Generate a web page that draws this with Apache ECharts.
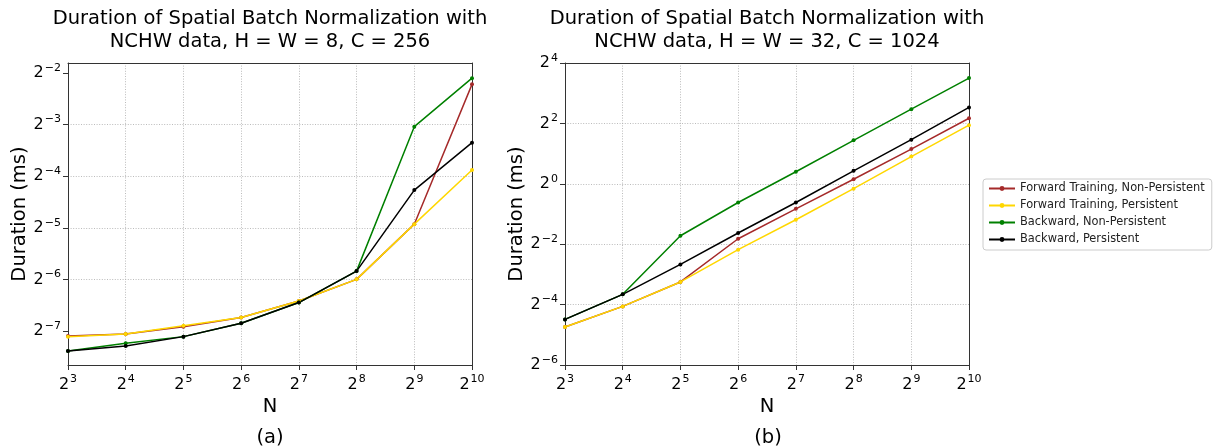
<!DOCTYPE html>
<html><head><meta charset="utf-8">
<script src="https://cdn.jsdelivr.net/npm/echarts@6/dist/echarts.min.js"></script>
<style>html,body{margin:0;padding:0;background:#fff}#c{width:1215px;height:448px}</style>
</head><body><div id="c"></div>
<script>
// Series names and colours
const seriesNames = ['Forward Training, Non-Persistent', 'Forward Training, Persistent', 'Backward, Non-Persistent', 'Backward, Persistent'];
const seriesColors = ['#a52a2a', '#ffd700', '#008000', '#000000'];

// N = 2^n, n values (x axis, log2 scale)
const nExp = [3, 4, 5, 6, 7, 8, 9, 10];

// Chart (a): H = W = 8, C = 256 — log2(duration in ms)
const aFwdNonPersistent = [-7.10, -7.06, -6.92, -6.74, -6.42, -6.00, -4.93, -2.22];
const aFwdPersistent    = [-7.11, -7.06, -6.90, -6.74, -6.42, -6.00, -4.93, -3.88];
const aBwdNonPersistent = [-7.39, -7.24, -7.11, -6.85, -6.45, -5.84, -3.04, -2.10];
const aBwdPersistent    = [-7.39, -7.29, -7.11, -6.85, -6.45, -5.84, -4.27, -3.35];

// Chart (b): H = W = 32, C = 1024 — log2(duration in ms)
const bFwdNonPersistent = [-4.74, -4.06, -3.25, -1.82, -0.83, 0.15, 1.15, 2.17];
const bFwdPersistent    = [-4.74, -4.06, -3.25, -2.18, -1.19, -0.16, 0.90, 1.94];
const bBwdNonPersistent = [-4.49, -3.66, -1.72, -0.62, 0.40, 1.44, 2.47, 3.50];
const bBwdPersistent    = [-4.49, -3.66, -2.67, -1.63, -0.62, 0.43, 1.46, 2.53];

// Tick exponents
const xTickExp = [3, 4, 5, 6, 7, 8, 9, 10];
const aYTickExp = [-7, -6, -5, -4, -3, -2];
const bYTickExp = [-6, -4, -2, 0, 2, 4];

const titleA = 'Duration of Spatial Batch Normalization with\nNCHW data, H = W = 8, C = 256';
const titleB = 'Duration of Spatial Batch Normalization with\nNCHW data, H = W = 32, C = 1024';

const FONT = 'DejaVu Sans';
const rich = {
  b: { fontSize: 16, fontFamily: FONT, color: '#000' },
  s: { fontSize: 11, fontFamily: FONT, color: '#000', padding: [0, 0, 10, 1] }
};
function powLabel(v) {
  const e = Math.round(v);
  return '{b|2}{s|' + (e < 0 ? '\u2212' + (-e) : String(e)) + '}';
}

const axisLineStyle = { color: '#333', width: 1 };
const splitLineStyle = { color: '#aaaaaa', width: 0.8, type: [1, 1.6] };

function xAxis(gridIndex) {
  return {
    type: 'value', gridIndex, min: 3, max: 10, interval: 1,
    name: 'N', nameLocation: 'middle', nameGap: 29,
    nameTextStyle: { fontFamily: FONT, fontSize: 19.5, color: '#000' },
    axisLine: { show: true, onZero: false, lineStyle: axisLineStyle },
    axisTick: { show: true, length: 5, lineStyle: axisLineStyle, customValues: xTickExp },
    axisLabel: { formatter: powLabel, rich, margin: 9, customValues: xTickExp },
    splitLine: { show: true, showMinLine: false, showMaxLine: false, lineStyle: splitLineStyle }
  };
}
function yAxis(gridIndex, min, max, ticks, interval, nameGap) {
  const ax = {
    type: 'value', gridIndex, min, max,
    name: 'Duration (ms)', nameLocation: 'middle', nameGap,
    nameTextStyle: { fontFamily: FONT, fontSize: 19.5, color: '#000' },
    axisLine: { show: true, onZero: false, lineStyle: axisLineStyle },
    axisTick: { show: true, length: 5, lineStyle: axisLineStyle, customValues: ticks },
    axisLabel: { formatter: powLabel, rich, margin: 7, customValues: ticks },
    splitLine: { show: true, showMinLine: false, showMaxLine: false, lineStyle: splitLineStyle }
  };
  if (interval) ax.interval = interval;
  return ax;
}
// Plain frame axes (top / right spines)
function frameAxis(gridIndex, position, min, max) {
  return {
    type: 'value', gridIndex, position, min, max,
    axisLine: { show: true, onZero: false, lineStyle: axisLineStyle },
    axisTick: { show: false }, axisLabel: { show: false }, splitLine: { show: false }
  };
}

function mkSeries(name, color, vals, idx) {
  return {
    name, type: 'line', xAxisIndex: idx, yAxisIndex: idx,
    data: nExp.map((n, i) => [n, vals[i]]),
    symbol: 'circle', symbolSize: 4, showSymbol: true,
    lineStyle: { color, width: 1.5 }, itemStyle: { color },
    emphasis: { disabled: true }, animation: false
  };
}

const aData = [aFwdNonPersistent, aFwdPersistent, aBwdNonPersistent, aBwdPersistent];
const bData = [bFwdNonPersistent, bFwdPersistent, bBwdNonPersistent, bBwdPersistent];
const series = [];
aData.forEach((d, i) => series.push(mkSeries(seriesNames[i], seriesColors[i], d, 0)));
bData.forEach((d, i) => series.push(mkSeries(seriesNames[i], seriesColors[i], d, 1)));

const chart = echarts.init(document.getElementById('c'), null, { renderer: 'canvas' });
chart.setOption({
  animation: false,
  backgroundColor: '#fff',
  textStyle: { fontFamily: FONT },
  grid: [
    { left: 68, width: 404, top: 63, height: 302, show: false, containLabel: false },
    { left: 565, width: 404, top: 63, height: 302, show: false, containLabel: false }
  ],
  xAxis: [xAxis(0), xAxis(1), frameAxis(0, 'top', 3, 10), frameAxis(1, 'top', 3, 10)],
  yAxis: [yAxis(0, -7.66, -1.806, aYTickExp, null, 38), yAxis(1, -6, 4, bYTickExp, 2, 29),
          frameAxis(0, 'right', -7.66, -1.806), frameAxis(1, 'right', -6, 4)],
  legend: {
    data: seriesNames, orient: 'vertical', left: 983, top: 179,
    padding: [3, 7, 4, 5], itemGap: 4, itemWidth: 26, itemHeight: 6,
    borderColor: '#cccccc', borderWidth: 1, borderRadius: 3, backgroundColor: '#fff',
    textStyle: { fontFamily: FONT, fontSize: 11.4, color: '#222', lineHeight: 13 },
    selectedMode: false
  },
  graphic: [
    { type: 'text', x: 270, y: 7, style: { text: titleA, fontFamily: FONT, fontSize: 19.5, lineHeight: 23, fill: '#000', align: 'center', verticalAlign: 'top' } },
    { type: 'text', x: 767, y: 7, style: { text: titleB, fontFamily: FONT, fontSize: 19.5, lineHeight: 23, fill: '#000', align: 'center', verticalAlign: 'top' } },
    { type: 'text', x: 270, y: 438, style: { text: '(a)', fontFamily: FONT, fontSize: 19.5, fill: '#000', align: 'center', verticalAlign: 'middle' } },
    { type: 'text', x: 768, y: 438, style: { text: '(b)', fontFamily: FONT, fontSize: 19.5, fill: '#000', align: 'center', verticalAlign: 'middle' } }
  ],
  series
});
</script></body></html>
